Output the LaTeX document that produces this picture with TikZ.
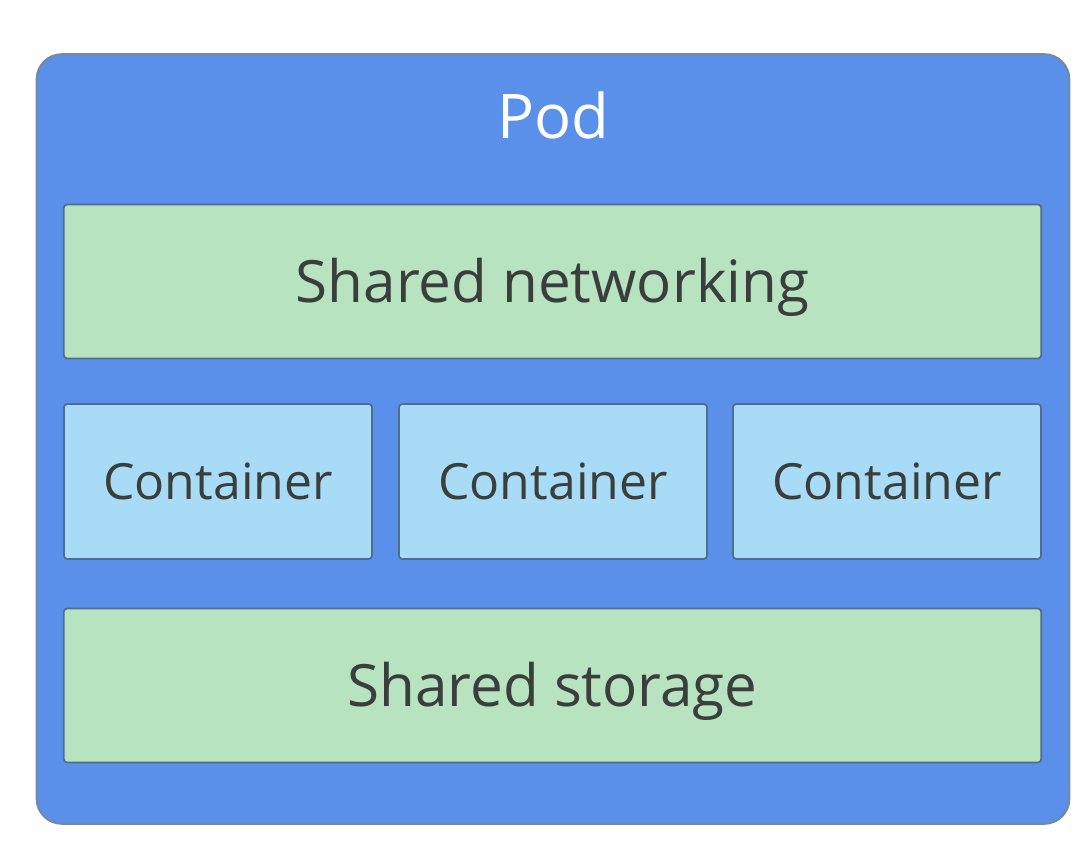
\documentclass[tikz,border=0pt]{standalone}
\usepackage{fontspec}
\setmainfont{Open Sans}
\usepackage{xcolor}
\definecolor{podblue}{HTML}{5A8FEA}
\definecolor{podgreen}{HTML}{B7E3C1}
\definecolor{podcyan}{HTML}{A8DBF6}
\definecolor{podedge}{HTML}{4F6E8E}
\definecolor{podtext}{HTML}{3A3F3C}
\usepackage{tikz}
\usetikzlibrary{positioning}

\begin{document}
\begin{tikzpicture}[
  x=0.01cm, y=-0.01cm,
  pod/.style={draw=podedge!80, line width=0.6pt, fill=podblue, rounded corners=0.25cm,
              minimum width=10.32cm, minimum height=7.69cm, inner sep=0pt},
  part/.style={draw=podedge, line width=0.5pt, rounded corners=1pt, inner sep=0pt,
               text=podtext, font=\fontsize{16.6}{20}\selectfont,
               text height=11.9pt, text depth=0pt},
  shared/.style={part, fill=podgreen, minimum width=9.77cm, minimum height=1.54cm},
  cont/.style={part, fill=podcyan, minimum width=3.08cm, minimum height=1.55cm,
               font=\fontsize{14.2}{18}\selectfont, text height=10.1pt},
  title/.style={text=white, font=\fontsize{17.5}{20}\selectfont, inner sep=0pt},
]
\useasboundingbox (0,0) rectangle (1092,858);
\node[pod] (pod) at (553,439) {};
\node[title, anchor=base] (podname) at (553,139) {Pod};
\node[shared] (net) at (552.5,281.5) {Shared networking};
\node[cont] (c1) at (218,481.5) {Container};
\node[cont] (c2) at (553,481.5) {Container};
\node[cont] (c3) at (887,481.5) {Container};
\node[shared] (stor) at (552.5,685.5) {Shared storage};
\end{tikzpicture}
\end{document}
